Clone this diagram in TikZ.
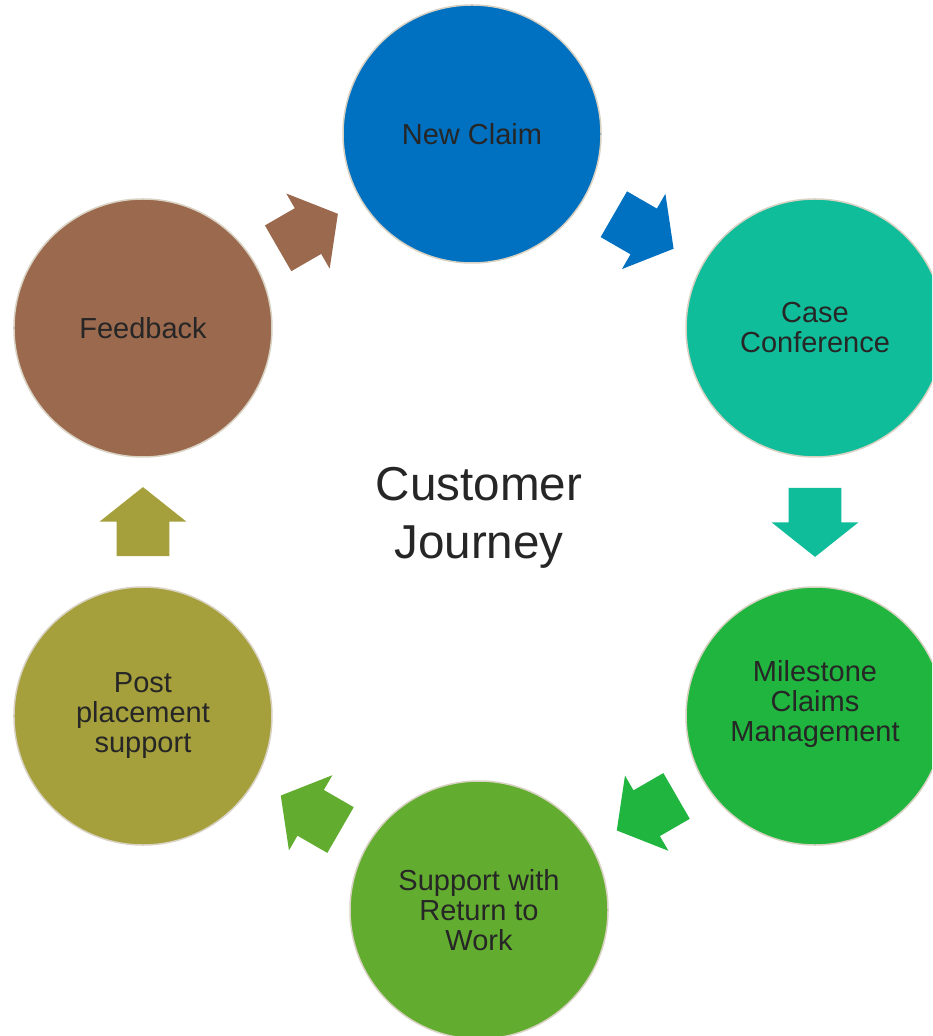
\documentclass[tikz,border=0pt]{standalone}
\usepackage{fontspec}
\setmainfont{Liberation Sans}
\usetikzlibrary{positioning, calc, shapes.arrows}

\definecolor{claimblue}{RGB}{0,112,192}
\definecolor{caseteal}{RGB}{16,189,154}
\definecolor{milegreen}{RGB}{31,181,62}
\definecolor{workgreen}{RGB}{98,173,47}
\definecolor{postolive}{RGB}{165,160,59}
\definecolor{feedbrown}{RGB}{155,105,77}
\definecolor{ringbeige}{RGB}{217,210,195}
\definecolor{textgray}{RGB}{38,38,38}

\begin{document}
\begin{tikzpicture}[x=0.5pt, y=0.5pt]
            \tikzset{
                stage/.style={circle, minimum size=129pt, inner sep=0pt, draw=ringbeige, line width=0.75pt, text=textgray, align=center, font=\fontsize{14.5}{15}\selectfont}, % krog za en korak
                turn/.style={single arrow, draw=none, anchor=tail, inner xsep=0pt, inner ysep=13pt, minimum height=34.5pt, single arrow head extend=8.5pt, single arrow tip angle=103}, % debela puscica med koraki
                title/.style={align=center, text=textgray, font=\fontsize{23.8}{29}\selectfont}, % napis v sredini
            }

            \clip (0,0) rectangle (932,-1036);
            \fill[white] (0,0) rectangle (932,-1036);
            \coordinate (hub) at (479,-522);

            \node[stage, fill=claimblue] (nc) at ($(hub)+(90:388)+(-7,0)$) {New Claim};
            \node[stage, fill=caseteal] (cc) at ($(hub)+(30:388)$) {Case\\Conference};
            \node[stage, fill=milegreen] (ms) at ($(hub)+(-30:388)$) {Milestone\\Claims\\Management\\~};
            \node[stage, fill=workgreen] (sw) at ($(hub)+(-90:388)$) {Support with\\Return to\\Work};
            \node[stage, fill=postolive] (pp) at ($(hub)+(210:388)$) {Post\\placement\\support};
            \node[stage, fill=feedbrown] (fb) at ($(hub)+(150:388)$) {Feedback};

            \node[title] (cj) at ($(hub)+(0,4)$) {Customer\\Journey};

            % tail of each arrow half its length before the middle between two steps
            \node[turn, fill=claimblue, rotate=-30] (t1) at ($(nc)!0.5!(cc)!17.25pt!(nc)$) {};
            \node[turn, fill=caseteal, rotate=-90] (t2) at ($(cc)!0.5!(ms)!17.25pt!(cc)$) {};
            \node[turn, fill=milegreen, rotate=-150] (t3) at ($(ms)!0.5!(sw)!17.25pt!(ms)$) {};
            \node[turn, fill=workgreen, rotate=150] (t4) at ($(sw)!0.5!(pp)!17.25pt!(sw)$) {};
            \node[turn, fill=postolive, rotate=90] (t5) at ($(pp)!0.5!(fb)!17.25pt!(pp)$) {};
            \node[turn, fill=feedbrown, rotate=30] (t6) at ($(fb)!0.5!(nc)!17.25pt!(fb)$) {};
        \end{tikzpicture}
\end{document}
